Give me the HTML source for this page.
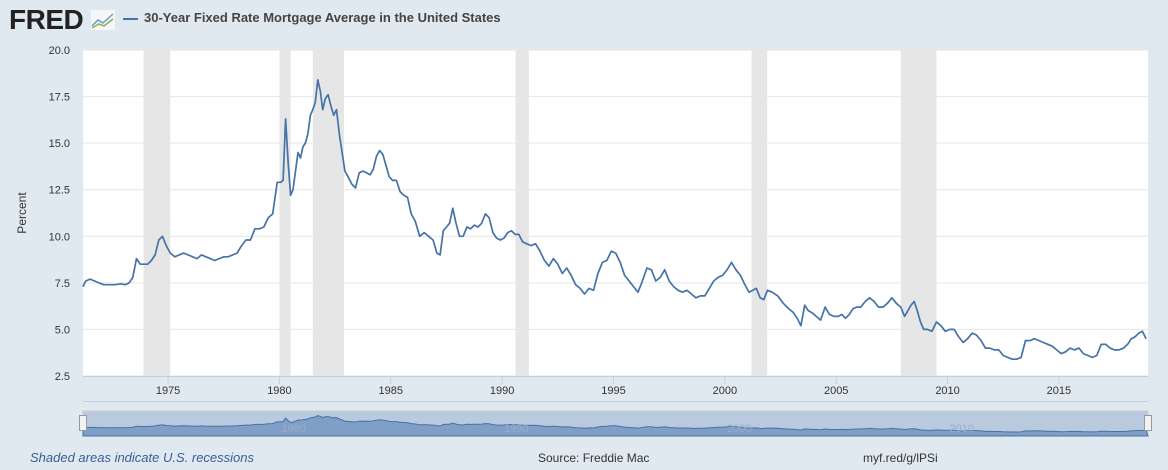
<!DOCTYPE html>
<html><head><meta charset="utf-8"><style>
body{margin:0;width:1168px;height:470px;background:#e1e9f0;font-family:"Liberation Sans",sans-serif;overflow:hidden;position:relative}
.t{position:absolute;white-space:nowrap}
</style></head><body>
<div class="t" style="left:9px;top:4px;font-size:28px;font-weight:bold;color:#222;letter-spacing:-0.5px">FRED</div>
<svg class="t" style="left:91px;top:10px" width="24" height="20"><rect width="24" height="20" fill="#f4f6f8"/><polyline points="1,16 7,10 12,13 22,4" fill="none" stroke="#6a9bd1" stroke-width="1.5"/><polyline points="1,18 8,14 13,16 22,9" fill="none" stroke="#8bb34a" stroke-width="1.5"/></svg>
<div class="t" style="left:123px;top:18px;width:15px;height:2px;background:#4572a7"></div>
<div class="t" style="left:144px;top:10px;font-size:13px;font-weight:bold;color:#444">30-Year Fixed Rate Mortgage Average in the United States</div>
<div class="t" style="left:0px;top:206px;font-size:12px;color:#333;transform:rotate(-90deg);width:44px;text-align:center">Percent</div>
<svg id="c" width="1168" height="470" style="position:absolute;left:0;top:0"></svg>
<div class="t" style="left:30px;top:450px;font-size:13px;font-style:italic;color:#3a5d99">Shaded areas indicate U.S. recessions</div>
<div class="t" style="left:538px;top:451px;font-size:12px;color:#333">Source: Freddie Mac</div>
<div class="t" style="left:863px;top:451px;font-size:12px;color:#333">myf.red/g/lPSi</div>
<script>
const years=[1971,1972,1973,1974,1975,1976,1977,1978,1979,1980,1981,1982,1983,1984,1985,1986,1987,1988,1989,1990,1991,1992,1993,1994,1995,1996,1997,1998,1999,2000,2001,2002,2003,2004,2005,2006,2007,2008,2009,2010,2011,2012,2013,2014,2015,2016,2017,2018];
const yearValues=[
[7.3,7.6,7.7,7.6,7.5],[7.4,7.4,7.4,7.45],[7.4,7.5,7.8,8.8,8.5,8.5],[8.5,8.7,9.0,9.8,10.0,9.5],[9.1,8.9,9.0,9.1,9.0],
[8.9,8.8,9.0,8.9,8.8],[8.7,8.8,8.9,8.9,9.0],[9.1,9.5,9.8,9.8,10.4],[10.4,10.5,11.0,11.2,12.9],
[12.9,13.0,16.3,14.0,12.2,12.5,13.5,14.5,14.2],[14.8,15.0,15.5,16.5,16.8,17.2,18.4,17.8,16.8],[17.4,17.6,17.0,16.5,16.8,15.5,14.5,13.5],
[13.2,12.8,12.6,13.4,13.5,13.4],[13.3,13.6,14.3,14.6,14.4,13.8,13.2],[13.0,13.0,12.4,12.2,12.1,11.2],[10.8,10.0,10.2,10.0,9.8],
[9.1,9.0,10.3,10.5,10.7,11.5,10.7],[10.0,10.0,10.5,10.4,10.6,10.5],[10.7,11.2,11.0,10.2,9.9,9.8],[9.9,10.2,10.3,10.1,10.1,9.7],
[9.6,9.5,9.6,9.2,8.7],[8.4,8.8,8.5,8.0,8.3],[7.9,7.4,7.2,6.9,7.2],[7.1,8.0,8.6,8.7,9.2],[9.1,8.6,7.9,7.6,7.3],
[7.0,7.6,8.3,8.2,7.6],[7.8,8.2,7.6,7.3,7.1],[7.0,7.1,6.9,6.7,6.8],[6.8,7.2,7.6,7.8,7.9],[8.2,8.6,8.2,7.9,7.4],
[7.0,7.1,7.2,6.7,6.6,7.1],[7.0,6.8,6.4,6.1],[5.9,5.6,5.2,6.3,6.0,5.9],[5.7,5.5,6.2,5.8,5.7],[5.7,5.8,5.6,5.8,6.1,6.2],
[6.2,6.5,6.7,6.5,6.2],[6.2,6.4,6.7,6.4,6.2],[5.7,6.0,6.3,6.5,6.0,5.4,5.0],[5.0,4.9,5.4,5.2,4.9],[5.0,5.0,4.6,4.3,4.5],
[4.8,4.7,4.4,4.0,4.0],[3.9,3.9,3.6,3.5,3.4],[3.4,3.5,4.4,4.4,4.5],[4.4,4.3,4.2,4.1,3.9],[3.7,3.8,4.0,3.9,4.0],
[3.7,3.6,3.5,3.6,4.2],[4.2,4.0,3.9,3.9,4.0],[4.2,4.5,4.6,4.8,4.9,4.5]];
const recStart=[1973.9,1980.0,1981.5,1990.6,2001.2,2007.9];
const recEnd=[1975.1,1980.5,1982.9,1991.2,2001.9,2009.5];
const yTicks=[2.5,5.0,7.5,10.0,12.5,15.0,17.5,20.0];
const xTicks=[1975,1980,1985,1990,1995,2000,2005,2010,2015];
const X0=83,X1=1148,T0=1971.18,T1=2019.0,Y0=376,Y1=50;
const xs=t=>X0+(t-T0)/(T1-T0)*(X1-X0);
const ys=v=>Y0-(v-2.5)/(20-2.5)*(Y0-Y1);
const NS="http://www.w3.org/2000/svg",svg=document.getElementById('c');
function mk(tag,at,parent){const e=document.createElementNS(NS,tag);for(const k in at)e.setAttribute(k,at[k]);(parent||svg).appendChild(e);return e;}
const bg=mk('rect',{x:X0,y:Y1,width:X1-X0,height:Y0-Y1,fill:'#fff'});


recStart.forEach((s,i)=>{const r=mk('rect',{x:xs(s),y:Y1,width:xs(recEnd[i])-xs(s),height:Y0-Y1,fill:'#e6e6e6'});

});
yTicks.forEach(v=>{const l=mk('line',{x1:X0,x2:X1,y1:ys(v),y2:ys(v),stroke:'#e6e6e6'});


const t=mk('text',{x:70,y:ys(v)+4,'text-anchor':'end','font-size':11,fill:'#333'});t.textContent=v.toFixed(1);

});
const ax=mk('line',{x1:X0,x2:X1,y1:Y0+0.5,y2:Y0+0.5,stroke:'#c0d0e0'});


const ax2=mk('line',{x1:X0,x2:X1,y1:401.5,y2:401.5,stroke:'#c0d0e0'});


xTicks.forEach(y=>{const l=mk('line',{x1:xs(y),x2:xs(y),y1:Y0,y2:Y0+8,stroke:'#c0d0e0'});


const t=mk('text',{x:xs(y),y:394,'text-anchor':'middle','font-size':11,fill:'#333'});t.textContent=y;

});
const pts=[];
years.forEach((yr,i)=>{const a=yearValues[i];a.forEach((v,j)=>pts.push([yr+(j+0.5)/a.length,v]));});
const visible=pts.filter(p=>p[0]>=T0-0.1);
const path=mk('polyline',{points:visible.map(p=>xs(Math.max(p[0],T0)).toFixed(1)+','+ys(p[1]).toFixed(1)).join(' '),fill:'none',stroke:'#4572a7','stroke-width':1.7,'stroke-linejoin':'round'});


const NY0=436,NY1=411;
const nys=v=>NY0-3-(v-2.5)/(20-2.5)*(NY0-NY1-6);
const nb=mk('rect',{x:X0,y:NY1,width:X1-X0,height:NY0-NY1,fill:'#b9c9de',stroke:'#ccc'});


const na=mk('polygon',{points:X0+','+NY0+' '+visible.map(p=>xs(Math.max(p[0],T0)).toFixed(1)+','+nys(p[1]).toFixed(1)).join(' ')+' '+X1+','+NY0,fill:'#7f9fc7',stroke:'#4572a7','stroke-width':1});


[1980,1990,2000,2010].forEach(y=>{const t=mk('text',{x:xs(y)+2,y:432,'font-size':11,fill:'#9aaccc'});t.textContent=y;

});
[X0,X1].forEach(x=>{const h=mk('rect',{x:x-3.5,y:415.5,width:7,height:15,fill:'#f2f2f2',stroke:'#999'});

});
</script>
</body></html>
